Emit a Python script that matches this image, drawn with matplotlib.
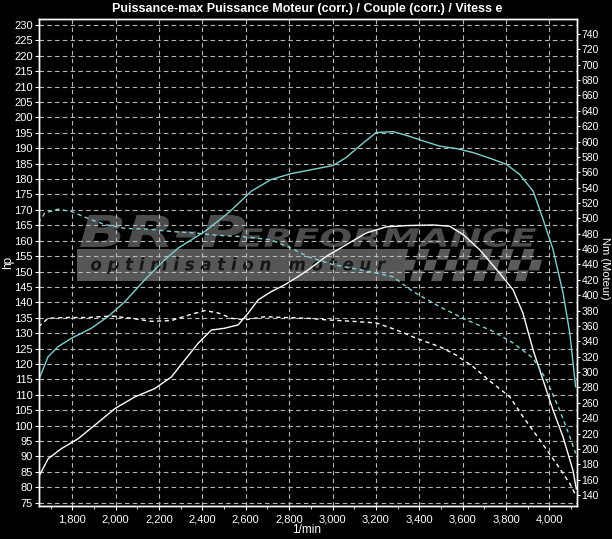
import numpy as np
import matplotlib.pyplot as plt
from matplotlib.ticker import FuncFormatter, MultipleLocator
from matplotlib.textpath import TextPath
from matplotlib.font_manager import FontProperties
from matplotlib.patches import PathPatch, Rectangle, Polygon
from matplotlib.transforms import Affine2D

plt.rcParams['font.family'] = ['Liberation Sans', 'DejaVu Sans']

# --- puissance (hp), moteur optimisé (cyan) ---
rpm_p_opt = [1644, 1688, 1734, 1795, 1888, 1965, 2042, 2134, 2226, 2288, 2411, 2519,
             2626, 2718, 2811, 2885, 3002, 3063, 3124, 3201, 3279, 3340, 3417, 3494,
             3571, 3648, 3740, 3801, 3863, 3925, 3971, 4017, 4063, 4094, 4121]
hp_opt = [114.7, 122.3, 125.6, 128.3, 131.6, 135.4, 140.2, 147.3, 153.8, 157.6, 163.0, 169.0,
          176.1, 179.9, 181.8, 182.8, 184.4, 187.0, 190.7, 195.1, 195.4, 194.2, 192.4, 190.7,
          189.9, 188.6, 186.4, 184.8, 181.5, 176.1, 166.9, 157.1, 143.0, 130.0, 112.6]

# --- puissance (hp), moteur d'origine (blanc) ---
rpm_p_ori = [1644, 1688, 1749, 1826, 1903, 1996, 2088, 2180, 2257, 2319, 2380, 2441,
             2503, 2565, 2611, 2657, 2718, 2780, 2842, 2885, 2971, 3063, 3155, 3248,
             3340, 3463, 3540, 3602, 3678, 3770, 3832, 3878, 3925, 3971, 4017, 4063, 4109, 4124]
hp_ori = [83.2, 89.2, 92.5, 95.7, 100.1, 105.5, 109.3, 112.0, 115.8, 121.3, 126.7, 131.0,
          131.6, 132.7, 136.5, 140.8, 143.5, 145.7, 148.4, 150.4, 154.9, 158.7, 162.5, 164.5,
          164.9, 165.1, 164.7, 162.0, 157.1, 149.5, 144.1, 136.5, 124.5, 114.7, 105.0, 96.3, 85.4, 79.5]

# --- couple (Nm), optimisé (cyan) ---
rpm_c_opt = [1644, 1673, 1734, 1795, 1872, 1949, 2042, 2149, 2257, 2365, 2472, 2596,
             2718, 2811, 2888, 3000, 3150, 3279, 3370, 3494, 3617, 3740, 3832, 3925,
             3986, 4047, 4094, 4121]
nm_opt = [494, 507, 512, 509, 500, 492, 487, 486, 483, 481, 478, 476,
          472, 461, 450, 440, 432, 424, 405, 385, 368, 353, 338, 318,
          290, 251, 216, 194]

# --- couple (Nm), origine (blanc) ---
rpm_c_ori = [1644, 1688, 1765, 1872, 1980, 2072, 2165, 2257, 2334, 2411, 2472, 2534,
             2596, 2688, 2780, 2885, 2971, 3094, 3201, 3293, 3386, 3494, 3571, 3648,
             3740, 3817, 3878, 3955, 4032, 4094, 4121]
nm_ori = [359, 370, 371, 371, 373, 370, 366, 367, 374, 380, 377, 370,
          368, 372, 371, 370, 368, 366, 364, 355, 344, 333, 322, 307,
          285, 268, 242, 212, 181, 155, 140]

title = 'Puissance-max Puissance Moteur (corr.) / Couple (corr.) / Vitess e'

CYAN = '#7fd0d0'
W, H = 612, 539

fig = plt.figure(figsize=(W / 100, H / 100), dpi=100, facecolor='black')
ax = fig.add_axes([38.5 / W, 33 / H, 538 / W, 487 / H], facecolor='black')

ax.plot(rpm_p_opt, hp_opt, color=CYAN, lw=1.0, zorder=3)
ax.plot(rpm_p_ori, hp_ori, color='white', lw=1.0, zorder=3)
ax.set_xlim(1644, 4125)
ax.set_ylim(73.9, 231.95)

ax.xaxis.set_major_locator(MultipleLocator(200))
ax.xaxis.set_minor_locator(MultipleLocator(100))
ax.xaxis.set_major_formatter(FuncFormatter(lambda v, p: f'{v:,.0f}'))
ax.yaxis.set_major_locator(MultipleLocator(5))
ax.grid(True, color='#b8b8b8', lw=0.8, linestyle=(0, (4, 3)))
ax.tick_params(colors='white', labelsize=8, length=3, width=0.8)
ax.tick_params(axis='x', which='minor', colors='white', length=2)
ax.tick_params(axis='x', pad=3)
ax.tick_params(axis='y', pad=1)

ax2 = ax.twinx()
ax2.plot(rpm_c_opt, nm_opt, color=CYAN, lw=1.0, linestyle=(0, (3, 2.5)))
ax2.plot(rpm_c_ori, nm_ori, color='white', lw=1.0, linestyle=(0, (3, 2.5)))
ax2.set_ylim(125.7, 759.5)
ax2.yaxis.set_major_locator(MultipleLocator(20))
ax2.tick_params(colors='white', labelsize=7.5, length=2.5, width=0.8, pad=1)
ax2.set_xlim(1644, 4125)

for a in (ax, ax2):
    for s in a.spines.values():
        s.set_color('white')
        s.set_linewidth(1.0)

# --- filigrane BR-Performance ---
def px_tr(x0, y0, x1, y1):
    return (Affine2D().scale((x1 - x0) / W, (y1 - y0) / H)
            .translate(x0 / W, 1 - y1 / H) + fig.transFigure)

def logo_text(s, box, color, weight='bold'):
    prop = FontProperties(family='DejaVu Sans', style='oblique', weight=weight)
    tp = TextPath((0, 0), s, size=10, prop=prop)
    e = tp.get_extents()
    tr = Affine2D().translate(-e.x0, -e.y0).scale(1 / e.width, 1 / e.height) + px_tr(*box)
    ax.add_patch(PathPatch(tp, transform=tr, fc=color, ec='none', zorder=0.8))

ax.add_patch(Rectangle((0, 0), 1, 1, transform=px_tr(77, 249, 405, 281),
                       fc='#565656', ec='none', zorder=0.7))
# drapeau à damier
cw, ch = 10.5, 10.7
for r in range(3):
    for c in range(14):
        if (r + c) % 2:
            continue
        x = 392 + c * cw + (2 - r) * 3
        y = 249 + r * ch
        pts = [(x, y), (x + cw, y), (x + cw - 3, y + ch), (x - 3, y + ch)]
        pts = [(px / W, 1 - py / H) for px, py in pts]
        ax.add_patch(Polygon(pts, closed=True, transform=fig.transFigure,
                             fc='#5a5a5a', ec='none', zorder=0.7))
logo_text('BR-P', (80, 215, 245, 247), '#4c4c4c')
logo_text('ERFORMANCE', (238, 228, 536, 247), '#4c4c4c')
logo_text('o p t i m i s a t i o n   m o t e u r', (91, 257, 386, 274), '#161616')

fig.text(307 / W, 1 - 9 / H, title, ha='center', va='center', color='white',
         fontsize=9, fontweight='bold')
fig.text(307 / W, 1 - 530 / H, '1/min', ha='center', va='center', color='white', fontsize=8.5)
fig.text(8 / W, 1 - 262 / H, 'hp', ha='center', va='center', color='white',
         fontsize=8.5, rotation=90)
fig.text(605.5 / W, 1 - 268 / H, 'Nm (Moteur)', ha='center', va='center', color='white',
         fontsize=8, rotation=270)

fig.savefig('out.png', dpi=100, facecolor='black')
